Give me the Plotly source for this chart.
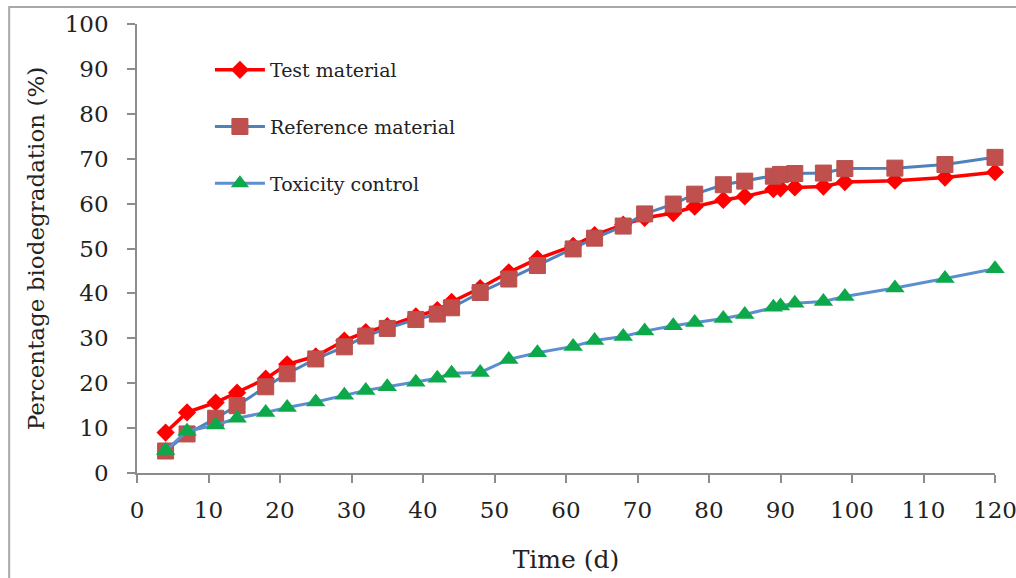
import plotly.graph_objects as go

days = [4, 7, 11, 14, 18, 21, 25, 29, 32, 35, 39, 42, 44, 48, 52, 56, 61, 64, 68, 71,
        75, 78, 82, 85, 89, 90, 92, 96, 99, 106, 113, 120]
test_material = [9.0, 13.5, 15.7, 17.9, 21.0, 24.2, 26.0, 29.5, 31.4, 32.7, 34.9, 36.3, 38.1,
                 41.2, 44.7, 47.7, 50.6, 53.0, 55.3, 56.8, 57.9, 59.3, 60.8, 61.6, 63.2, 63.4,
                 63.6, 63.8, 64.8, 65.1, 65.8, 67.0]
reference_material = [4.9, 8.7, 12.2, 15.0, 19.2, 22.1, 25.4, 28.1, 30.5, 32.2, 34.2, 35.4, 36.8,
                      40.2, 43.2, 46.2, 49.9, 52.3, 55.0, 57.7, 59.9, 62.1, 64.2, 65.0, 66.1, 66.5,
                      66.7, 66.8, 67.8, 67.9, 68.7, 70.3]
toxicity_control = [5.0, 9.3, 10.7, 12.2, 13.5, 14.6, 15.8, 17.3, 18.4, 19.2, 20.2, 21.1, 22.2,
                    22.4, 25.3, 26.8, 28.2, 29.5, 30.4, 31.6, 32.8, 33.5, 34.4, 35.3, 36.9, 37.2,
                    37.8, 38.2, 39.3, 41.2, 43.3, 45.5]
series_names = ["Test material", "Reference material", "Toxicity control"]
x_ticks = list(range(0, 121, 10))
y_ticks = list(range(0, 101, 10))

FONT = "DejaVu Serif"

fig = go.Figure()
fig.add_trace(go.Scatter(
    x=days, y=test_material, name=series_names[0], mode="lines+markers",
    line=dict(color="#FF0000", width=3.5),
    marker=dict(symbol="diamond", size=14, color="#FF0000"),
    legendgroup="a", cliponaxis=False))
fig.add_trace(go.Scatter(
    x=days, y=reference_material, name=series_names[1], mode="lines+markers",
    line=dict(color="#4F81BD", width=3),
    marker=dict(symbol="square", size=16, color="#C0504D",
                line=dict(color="#B5514E", width=1)),
    legendgroup="b", cliponaxis=False))
fig.add_trace(go.Scatter(
    x=days, y=toxicity_control, name=series_names[2], mode="lines+markers",
    line=dict(color="#5B8FD0", width=3),
    marker=dict(symbol="triangle-up", size=17, color="#0DA84A"),
    legendgroup="c", cliponaxis=False))

axis_common = dict(
    showgrid=False, zeroline=False, showline=True, linecolor="#8C8C8C", linewidth=1.5,
    ticks="outside", ticklen=8, tickcolor="#8C8C8C", tickwidth=1.5, automargin=False,
    ticklabeloverflow="allow",
    tickfont=dict(family=FONT, size=23, color="#222222"),
)

fig.update_xaxes(
    range=[0, 120], tickvals=x_ticks, ticktext=[str(v) for v in x_ticks],
    ticklabelstandoff=8,
    title=dict(text="Time (d)", font=dict(family=FONT, size=25, color="#222222"), standoff=28),
    **axis_common)
fig.update_yaxes(
    range=[0, 100], tickvals=y_ticks, ticktext=[str(v) for v in y_ticks],
    ticklabelstandoff=14,
    title=dict(text="Percentage biodegradation (%)", font=dict(family=FONT, size=23, color="#222222"),
               standoff=14),
    **axis_common)

fig.add_shape(type="rect", xref="paper", yref="paper",
              x0=-0.149, x1=1.05, y0=-0.3, y1=1.038,
              line=dict(color="#A8A8A8", width=2), layer="below")

fig.update_layout(
    width=1016, height=578,
    margin=dict(l=137, r=21, t=24, b=105),
    paper_bgcolor="white", plot_bgcolor="white",
    showlegend=True,
    legend=dict(x=0.085, y=0.94, xanchor="left", yanchor="top",
                traceorder="grouped", tracegroupgap=29,
                font=dict(family=FONT, size=19, color="#222222"),
                bgcolor="rgba(0,0,0,0)", itemwidth=50),
)

fig.write_html("out.html", config={"displayModeBar": False},
               post_script="document.body.style.margin='0';")
